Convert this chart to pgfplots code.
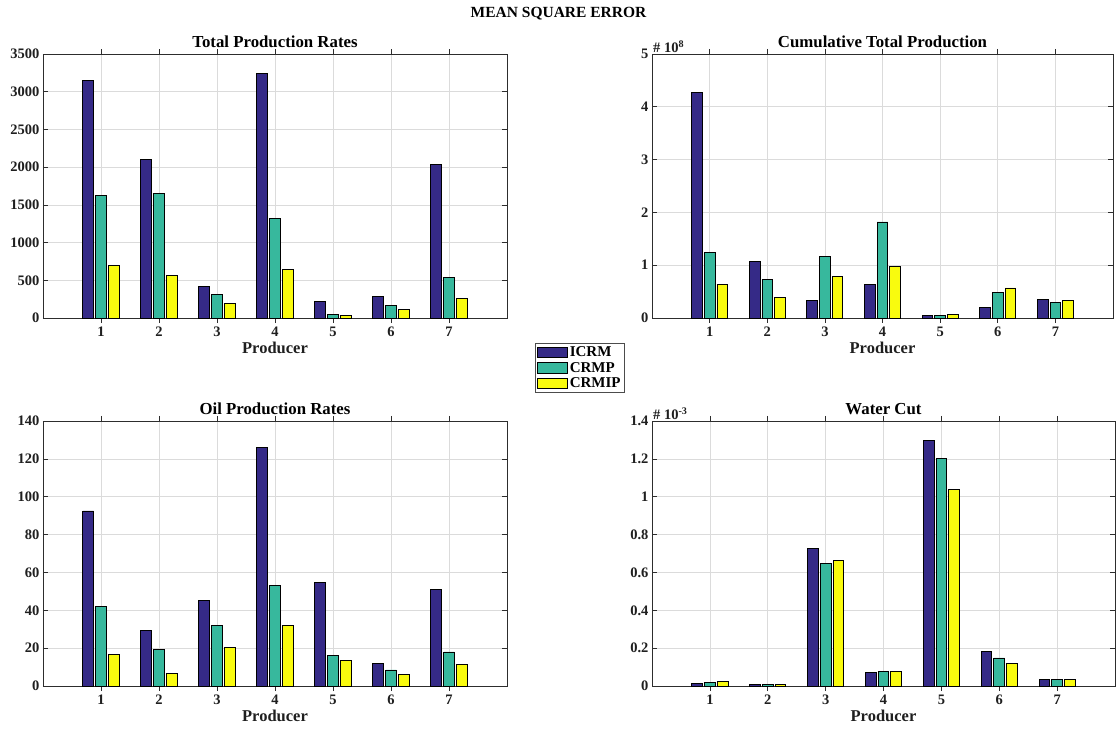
\documentclass[border=0pt]{standalone}
\usepackage{fontspec}
\setmainfont{Liberation Serif}
\usepackage{pgfplots}
\pgfplotsset{compat=1.18}
\definecolor{cA}{RGB}{53,42,135}
\definecolor{cB}{RGB}{55,184,157}
\definecolor{cC}{RGB}{249,251,14}
\definecolor{axc}{RGB}{45,45,45}
\pgfplotsset{
  mystyle/.style={
    scale only axis, clip=false,
    xmin=0, xmax=8, xtick={1,...,7}, ymin=0,
    grid=major,
    major grid style={black!14, line width=0.6pt},
    axis line style={axc, line width=0.9pt},
    tick style={axc, line width=0.6pt},
    tick align=inside, major tick length=5pt,
    ticklabel style={font=\fontsize{14.5}{16}\selectfont\bfseries, text=black!88},
    /pgf/number format/assume math mode=true,
    /pgf/number format/1000 sep={},
    /pgf/number format/fixed,
    scaled y ticks=false,
    title style={font=\fontsize{16.8}{18}\selectfont\bfseries, text=black, yshift=-3pt},
    xlabel={Producer},
    xlabel style={font=\fontsize{16.5}{18}\selectfont\bfseries, text=black!88, yshift=1pt},
    ybar, bar width=0.185,
    every axis plot/.append style={draw=black, line width=0.8pt},
  },
  s1/.style={fill=cA, bar shift=-0.22},
  s2/.style={fill=cB, bar shift=0},
  s3/.style={fill=cC, bar shift=0.22},
}
\begin{document}
\begin{tikzpicture}
\useasboundingbox (0pt,0pt) rectangle (1117pt,732pt);
\node[font=\fontsize{15.5}{18}\selectfont\bfseries] at (558.5pt,718pt) {MEAN SQUARE ERROR};

% Total production rates
\begin{axis}[mystyle, at={(43pt,414pt)}, anchor=south west, width=464pt, height=264pt,
  title={Total Production Rates}, ymax=3500, ytick={0,500,...,3500},
  legend style={at={(1.157,-0.189)}, anchor=center, draw=black!70, line width=0.6pt,
    font=\fontsize{15}{15}\selectfont\bfseries, inner sep=1.5pt, row sep=0pt,
    cells={anchor=west}},
  legend image code/.code={\draw[#1, line width=0.7pt] (0pt,-5.2pt) rectangle (30pt,5.2pt);},
  legend cell align=left]
\addplot[s1] coordinates {(1,3150) (2,2100) (3,420) (4,3240) (5,215) (6,285) (7,2030)};
\addplot[s2] coordinates {(1,1630) (2,1650) (3,310) (4,1320) (5,50) (6,165) (7,535)};
\addplot[s3] coordinates {(1,700) (2,560) (3,195) (4,640) (5,35) (6,115) (7,260)};
\legend{ICRM, CRMP, CRMIP}
\end{axis}

% Cumulative total production
\begin{axis}[mystyle, at={(652pt,414pt)}, anchor=south west, width=461pt, height=264pt,
  title={Cumulative Total Production}, ymax=5, ytick={0,1,...,5}]
\addplot[s1] coordinates {(1,4.27) (2,1.07) (3,0.33) (4,0.64) (5,0.05) (6,0.20) (7,0.35)};
\addplot[s2] coordinates {(1,1.24) (2,0.73) (3,1.16) (4,1.82) (5,0.04) (6,0.49) (7,0.30)};
\addplot[s3] coordinates {(1,0.64) (2,0.39) (3,0.78) (4,0.97) (5,0.06) (6,0.57) (7,0.34)};
\node[anchor=south west, font=\fontsize{14.5}{16}\selectfont\bfseries, text=black!88, inner sep=1pt]
  at (rel axis cs:0,1) {\# 10\textsuperscript{8}};
\end{axis}

% Oil production rates
\begin{axis}[mystyle, at={(43pt,46pt)}, anchor=south west, width=464pt, height=265pt,
  title={Oil Production Rates}, ymax=140, ytick={0,20,...,140}]
\addplot[s1] coordinates {(1,92.5) (2,29.5) (3,45) (4,126) (5,54.5) (6,12) (7,51)};
\addplot[s2] coordinates {(1,42) (2,19.5) (3,32) (4,53) (5,16) (6,8.5) (7,18)};
\addplot[s3] coordinates {(1,16.5) (2,6.5) (3,20.5) (4,32) (5,13.5) (6,6) (7,11.5)};
\end{axis}

% Water cut
\begin{axis}[mystyle, at={(652pt,46pt)}, anchor=south west, width=463pt, height=265pt,
  title={Water Cut}, ymax=1.4, ytick={0,0.2,...,1.4},
  yticklabel style={/pgf/number format/precision=1}]
\addplot[s1] coordinates {(1,0.015) (2,0.006) (3,0.725) (4,0.072) (5,1.295) (6,0.183) (7,0.035)};
\addplot[s2] coordinates {(1,0.020) (2,0.006) (3,0.648) (4,0.077) (5,1.200) (6,0.148) (7,0.035)};
\addplot[s3] coordinates {(1,0.022) (2,0.006) (3,0.662) (4,0.077) (5,1.037) (6,0.120) (7,0.035)};
\node[anchor=south west, font=\fontsize{14.5}{16}\selectfont\bfseries, text=black!88, inner sep=1pt]
  at (rel axis cs:0,1) {\# 10\textsuperscript{-3}};
\end{axis}
\end{tikzpicture}
\end{document}
